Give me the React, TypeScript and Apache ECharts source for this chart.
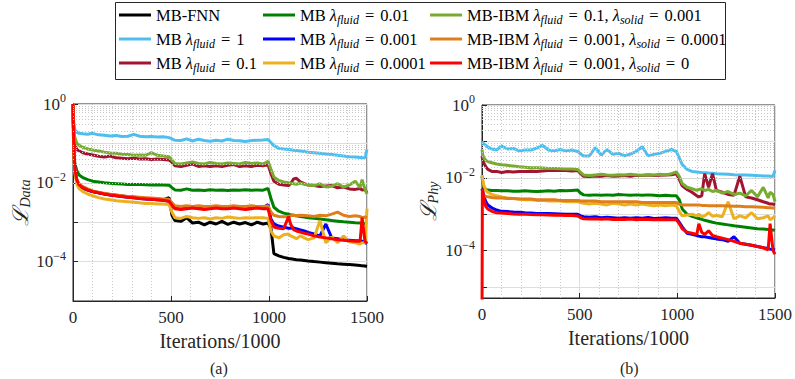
import React, { useEffect, useRef } from "react";
import * as echarts from "echarts";

const FONT = "Liberation Serif";
const INK = "#262626";

// iterations / 1000 (shared sampling grid)
const ITER = [
  0, 2, 5, 10, 20, 30, 50, 75, 100,
  130, 160, 190, 220, 250, 280, 310, 340, 370, 400, 430, 460, 490,
  505, 520, 550, 580, 610, 640, 670, 700, 730, 760, 790, 820, 850, 880, 910, 940, 970, 995,
  1010, 1025, 1050, 1075, 1100,
  1110, 1125, 1140, 1160, 1180, 1200,
  1230, 1260, 1290, 1320, 1350, 1380, 1410, 1440,
  1465, 1475, 1490, 1500,
];

const NAMES = [
  "MB-FNN",
  "MB λfluid = 1",
  "MB λfluid = 0.1",
  "MB λfluid = 0.01",
  "MB λfluid = 0.001",
  "MB λfluid = 0.0001",
  "MB-IBM λfluid = 0.1, λsolid = 0.001",
  "MB-IBM λfluid = 0.001, λsolid = 0.0001",
  "MB-IBM λfluid = 0.001, λsolid = 0",
];
const COLORS = ["#000000", "#4DBEEE", "#A2142F", "#008000", "#0000FF", "#EDB120", "#77AC30", "#DE7F1B", "#FF0000"];

// (a) data loss
const A_FNN = [
  1, 0.3, 0.05, 0.02, 0.011, 0.0088, 0.0073, 0.0065, 0.006,
  0.0056, 0.0053, 0.005, 0.0048, 0.0046, 0.0044, 0.0043, 0.0042, 0.004, 0.0039, 0.0038, 0.0037, 0.0042,
  0.0015, 0.0011, 0.00105, 0.0013, 0.00095, 0.001, 0.00085, 0.001, 0.0009, 0.00105, 0.00088, 0.001, 0.0009, 0.00098, 0.00085, 0.001, 0.0009, 0.00095,
  0.0007, 0.00016, 0.00014, 0.000128, 0.00012,
  0.000118, 0.000115, 0.000112, 0.00011, 0.000107, 0.000104,
  0.0001, 0.000097, 0.000094, 0.000091, 0.000088, 0.000086, 0.000084, 0.000082,
  0.00008, 0.000078, 0.000077, 0.000075,
];
const A_L1 = [
  1, 0.45, 0.3, 0.22, 0.19, 0.18, 0.175, 0.17, 0.18,
  0.165, 0.16, 0.155, 0.158, 0.15, 0.152, 0.17, 0.152, 0.148, 0.15, 0.145, 0.148, 0.14,
  0.13, 0.12, 0.118, 0.13, 0.115, 0.128, 0.118, 0.113, 0.12, 0.115, 0.128, 0.118, 0.116, 0.112, 0.118, 0.12, 0.122, 0.125,
  0.105, 0.088, 0.075, 0.072, 0.07,
  0.069, 0.067, 0.066, 0.064, 0.062, 0.06,
  0.058, 0.056, 0.054, 0.052, 0.05, 0.048, 0.046, 0.045,
  0.044, 0.043, 0.044, 0.07,
];
const A_L01 = [
  1, 0.35, 0.15, 0.09, 0.07, 0.065, 0.058, 0.054, 0.051,
  0.047, 0.045, 0.048, 0.043, 0.042, 0.041, 0.042, 0.04, 0.041, 0.039, 0.04, 0.039, 0.038,
  0.033, 0.027, 0.026, 0.028, 0.03, 0.026, 0.027, 0.026, 0.027, 0.026, 0.028, 0.029, 0.026, 0.027, 0.026, 0.028, 0.027, 0.029,
  0.017, 0.011, 0.0092, 0.0088, 0.0085,
  0.0095, 0.0125, 0.013, 0.0105, 0.0095, 0.0088,
  0.0085, 0.008, 0.0083, 0.0085, 0.0075, 0.0078, 0.007, 0.0068,
  0.0072, 0.0065, 0.0068, 0.0055,
];
const A_L001 = [
  1, 0.2, 0.05, 0.03, 0.02, 0.016, 0.0135, 0.012, 0.011,
  0.0105, 0.01, 0.0097, 0.0095, 0.0093, 0.0091, 0.009, 0.009, 0.0089, 0.0088, 0.0089, 0.0088, 0.0087,
  0.0075, 0.0066, 0.0065, 0.007, 0.0065, 0.0066, 0.0064, 0.0067, 0.0065, 0.0066, 0.0064, 0.0066, 0.0065, 0.0067, 0.0065, 0.0066, 0.0065, 0.0072,
  0.004, 0.0024, 0.0019, 0.0017, 0.0016,
  0.00155, 0.0015, 0.00145, 0.0014, 0.00135, 0.0013,
  0.00125, 0.0012, 0.00115, 0.0011, 0.00106, 0.00102, 0.001, 0.00097,
  0.00095, 0.00094, 0.00093, 0.0009,
];
const A_L0001 = [
  1, 0.3, 0.055, 0.021, 0.0112, 0.0089, 0.0074, 0.0066, 0.006,
  0.0056, 0.0052, 0.0049, 0.0047, 0.0045, 0.0043, 0.0042, 0.004, 0.0039, 0.0038, 0.0037, 0.0036, 0.0034,
  0.0027, 0.0023, 0.0022, 0.0023, 0.0024, 0.0023, 0.0022, 0.0023, 0.0024, 0.0023, 0.0023, 0.0024, 0.0023, 0.0022, 0.0023, 0.0024, 0.0023, 0.0028,
  0.0012, 0.0009, 0.0008, 0.00075, 0.0007,
  0.0007, 0.00072, 0.00068, 0.00064, 0.0006, 0.00055,
  0.0005, 0.00045, 0.0009, 0.0004, 0.00038, 0.00036, 0.00035, 0.00034,
  0.00034, 0.00033, 0.00031, 0.00028,
];
const A_L00001 = [
  1, 0.2, 0.04, 0.017, 0.009, 0.0072, 0.006, 0.0052, 0.0047,
  0.0042, 0.0039, 0.0037, 0.0035, 0.0034, 0.0033, 0.0032, 0.0031, 0.003, 0.003, 0.0029, 0.0029, 0.0028,
  0.0018, 0.0013, 0.00125, 0.0014, 0.0013, 0.00125, 0.0013, 0.0012, 0.0013, 0.00125, 0.00135, 0.0013, 0.00125, 0.0013, 0.00128, 0.0013, 0.0013, 0.00125,
  0.0006, 0.00045, 0.0004, 0.00048, 0.0005,
  0.00045, 0.00042, 0.00038, 0.00045, 0.0004, 0.00036,
  0.0004, 0.0011, 0.0003, 0.00042, 0.0003, 0.00045, 0.00032, 0.0003,
  0.00028, 0.0003, 0.0003, 0.0022,
];
const A_IBM1 = [
  1, 0.4, 0.2, 0.14, 0.1, 0.09, 0.08, 0.072, 0.068,
  0.064, 0.06, 0.057, 0.056, 0.053, 0.052, 0.05, 0.051, 0.05, 0.058, 0.05, 0.048, 0.046,
  0.038, 0.031, 0.03, 0.032, 0.034, 0.031, 0.03, 0.033, 0.031, 0.03, 0.032, 0.031, 0.03, 0.033, 0.031, 0.032, 0.03, 0.035,
  0.022, 0.014, 0.0115, 0.0105, 0.01,
  0.0098, 0.0095, 0.0092, 0.0098, 0.0092, 0.0088,
  0.0085, 0.0095, 0.0078, 0.0082, 0.0095, 0.0078, 0.0088, 0.011,
  0.0075, 0.012, 0.0068, 0.0052,
];
const A_IBM2 = [
  1, 0.15, 0.04, 0.02, 0.012, 0.0095, 0.008, 0.007, 0.0062,
  0.0058, 0.0054, 0.0051, 0.0049, 0.0047, 0.0045, 0.0044, 0.0043, 0.0042, 0.0041, 0.004, 0.0039, 0.0038,
  0.0031, 0.0026, 0.0025, 0.0026, 0.0025, 0.0026, 0.0025, 0.0025, 0.0026, 0.0025, 0.0025, 0.0026, 0.0025, 0.0025, 0.0026, 0.0025, 0.0025, 0.0026,
  0.0018, 0.0015, 0.0014, 0.00138, 0.0014,
  0.00145, 0.0015, 0.00145, 0.0015, 0.00148, 0.00145,
  0.0014, 0.0015, 0.00145, 0.0016, 0.0018, 0.0015, 0.0014, 0.00145,
  0.0014, 0.0013, 0.00135, 0.0013,
];
const A_IBM3 = [
  1, 0.3, 0.06, 0.022, 0.0115, 0.009, 0.0075, 0.0066, 0.006,
  0.0056, 0.0052, 0.0049, 0.0047, 0.0045, 0.0043, 0.0042, 0.004, 0.0039, 0.0038, 0.0037, 0.0036, 0.0034,
  0.0027, 0.0022, 0.0021, 0.0022, 0.0023, 0.0022, 0.0021, 0.0022, 0.0023, 0.0022, 0.0022, 0.0023, 0.0022, 0.0021, 0.0022, 0.0023, 0.0022, 0.0022,
  0.0011, 0.00075, 0.0007, 0.00068, 0.0014,
  0.0009, 0.00065, 0.0006, 0.00056, 0.00052, 0.0005,
  0.00045, 0.00042, 0.0004, 0.00038, 0.00036, 0.00035, 0.00034, 0.00033,
  0.00033, 0.0013, 0.00032, 0.0003,
];

// (b) physics loss
const B_L1 = [
  0.1, 0.095, 0.09, 0.085, 0.078, 0.07, 0.062, 0.058, 0.075,
  0.062, 0.064, 0.055, 0.058, 0.058, 0.065, 0.078, 0.058, 0.055, 0.06, 0.055, 0.058, 0.053,
  0.045, 0.04, 0.04, 0.068, 0.042, 0.06, 0.044, 0.047, 0.04, 0.045, 0.053, 0.072, 0.04, 0.044, 0.047, 0.053, 0.06, 0.053,
  0.035, 0.023, 0.017, 0.015, 0.0145,
  0.0143, 0.014, 0.0138, 0.0135, 0.0133, 0.013,
  0.0128, 0.0125, 0.0122, 0.012, 0.012, 0.0118, 0.0115, 0.0113,
  0.0112, 0.0111, 0.011, 0.016,
];
const B_L01 = [
  0.04, 0.035, 0.03, 0.025, 0.02, 0.017, 0.015, 0.015, 0.014,
  0.015, 0.0145, 0.0148, 0.015, 0.0152, 0.015, 0.0155, 0.0158, 0.016, 0.0158, 0.016, 0.0155, 0.0158,
  0.013, 0.011, 0.0108, 0.0112, 0.011, 0.0115, 0.011, 0.0112, 0.0115, 0.011, 0.0118, 0.0115, 0.012, 0.0115, 0.0118, 0.012, 0.0122, 0.013,
  0.009, 0.006, 0.0048, 0.004, 0.0032,
  0.003, 0.0032, 0.013, 0.0055, 0.013, 0.0045,
  0.004, 0.0035, 0.0033, 0.011, 0.003, 0.0028, 0.0025, 0.0022,
  0.002, 0.0019, 0.0019, 0.0018,
];
const B_L001 = [
  0.011, 0.009, 0.007, 0.0055, 0.0048, 0.0046, 0.0045, 0.0045, 0.0044,
  0.0044, 0.0043, 0.0043, 0.0044, 0.0043, 0.0042, 0.0043, 0.0044, 0.0043, 0.0045, 0.0044, 0.0045, 0.0046,
  0.0038, 0.0034, 0.0033, 0.0034, 0.0033, 0.0034, 0.0033, 0.0035, 0.0034, 0.0033, 0.0034, 0.0033, 0.0034, 0.0033, 0.0032, 0.0033, 0.0032, 0.0032,
  0.0025, 0.0014, 0.001, 0.00088, 0.0008,
  0.00076, 0.00072, 0.00068, 0.00064, 0.0006, 0.00057,
  0.00054, 0.00051, 0.00048, 0.00046, 0.00044, 0.00042, 0.0004, 0.00039,
  0.00038, 0.00037, 0.00037, 0.00036,
];
const B_L0001 = [
  0.005, 0.0045, 0.004, 0.003, 0.0022, 0.0018, 0.0015, 0.0013, 0.0012,
  0.00118, 0.00115, 0.00113, 0.0011, 0.00108, 0.00105, 0.00105, 0.00104, 0.00103, 0.00102, 0.001, 0.001, 0.001,
  0.0009, 0.00085, 0.00082, 0.00085, 0.0008, 0.00082, 0.0008, 0.00078, 0.0008, 0.00077, 0.0008, 0.00078, 0.00082, 0.00076, 0.00078, 0.0008, 0.00077, 0.00078,
  0.0006, 0.00045, 0.0003, 0.00028, 0.00026,
  0.00025, 0.00024, 0.00024, 0.00023, 0.00022, 0.00021,
  0.0002, 0.00018, 0.00024, 0.00016, 0.00015, 0.00014, 0.00013, 0.00012,
  0.000115, 0.00011, 0.000108, 0.000105,
];
const B_L00001 = [
  0.012, 0.01, 0.008, 0.006, 0.0045, 0.004, 0.0035, 0.0032, 0.003,
  0.0028, 0.0027, 0.0026, 0.0025, 0.0025, 0.0024, 0.0024, 0.0023, 0.0023, 0.0023, 0.0022, 0.0022, 0.0022,
  0.0021, 0.002, 0.0019, 0.002, 0.0019, 0.0018, 0.002, 0.0019, 0.0018, 0.0019, 0.0018, 0.0019, 0.0018, 0.0017, 0.0018, 0.0017, 0.0018, 0.0017,
  0.0012, 0.0009, 0.00095, 0.001, 0.0009,
  0.001, 0.00085, 0.0009, 0.0011, 0.00088, 0.00092,
  0.00085, 0.0022, 0.00075, 0.0009, 0.0008, 0.0011, 0.00075, 0.0008,
  0.0009, 0.0007, 0.0008, 0.0009,
];
const B_IBM1 = [
  0.06, 0.05, 0.04, 0.035, 0.03, 0.028, 0.026, 0.024, 0.023,
  0.022, 0.021, 0.02, 0.0195, 0.019, 0.019, 0.0185, 0.018, 0.018, 0.0178, 0.0175, 0.0175, 0.017,
  0.014, 0.012, 0.0115, 0.012, 0.0125, 0.012, 0.0118, 0.0122, 0.012, 0.0125, 0.012, 0.0118, 0.0122, 0.012, 0.0125, 0.012, 0.013, 0.0145,
  0.011, 0.007, 0.0055, 0.005, 0.0045,
  0.0048, 0.005, 0.0045, 0.0048, 0.0042, 0.0045,
  0.0038, 0.0042, 0.0035, 0.0038, 0.0032, 0.0045, 0.003, 0.0055,
  0.0028, 0.004, 0.0035, 0.0022,
];
const B_IBM2 = [
  0.004, 0.0038, 0.0035, 0.0033, 0.0031, 0.003, 0.0029, 0.0028, 0.0028,
  0.0027, 0.0027, 0.0026, 0.0026, 0.0026, 0.0025, 0.0025, 0.0025, 0.0025, 0.0024, 0.0024, 0.0024, 0.0024,
  0.0023, 0.0023, 0.0023, 0.0023, 0.0022, 0.0022, 0.0022, 0.0022, 0.0022, 0.0022, 0.0022, 0.0021, 0.0021, 0.0021, 0.0021, 0.0021, 0.0021, 0.0021,
  0.0019, 0.0018, 0.0018, 0.0018, 0.0018,
  0.0018, 0.00175, 0.00175, 0.0017, 0.0017, 0.0017,
  0.0017, 0.00168, 0.00165, 0.00165, 0.0016, 0.0016, 0.00158, 0.00155,
  0.0015, 0.0015, 0.00148, 0.00145,
];
const B_IBM3 = [
  0.000001, 0.005, 0.004, 0.0025, 0.0016, 0.0014, 0.0012, 0.0011, 0.00108,
  0.00105, 0.00102, 0.001, 0.001, 0.00098, 0.00097, 0.00096, 0.00095, 0.00094, 0.00093, 0.00092, 0.00092, 0.0009,
  0.0008, 0.00075, 0.00074, 0.00075, 0.00073, 0.00075, 0.00072, 0.00073, 0.00072, 0.00074, 0.00071, 0.00073, 0.00072, 0.0007, 0.00072, 0.00071, 0.0007, 0.0007,
  0.00055, 0.0004, 0.00032, 0.0003, 0.00028,
  0.00055, 0.00032, 0.00028, 0.00035, 0.00026, 0.00024,
  0.00022, 0.0002, 0.00018, 0.00016, 0.00015, 0.00014, 0.00013, 0.00012,
  0.000105, 0.00055, 0.0001, 0.00008,
];

const SERIES_A = [A_FNN, A_L1, A_L01, A_L001, A_L0001, A_L00001, A_IBM1, A_IBM2, A_IBM3];
const SERIES_B = [null, B_L1, B_L01, B_L001, B_L0001, B_L00001, B_IBM1, B_IBM2, B_IBM3];

const X_TICKS = { min: 0, max: 1500, interval: 500 };
const Y_RANGE_A = { min: 1e-5, max: 1 };
const Y_RANGE_B = { min: 5e-6, max: 1 };

function minorLogValues(min: number, max: number) {
  const out: number[] = [];
  for (let e = -7; e <= 0; e++) {
    for (let m = 2; m <= 9; m++) {
      const v = m * Math.pow(10, e);
      if (v > min * 1.0001 && v < max) out.push(v);
    }
  }
  return out;
}

function legendFormatter(name: string) {
  return name.replace(/λ(fluid|solid)/g, "{l|λ}{s|$1}").replace(/ = /g, "{eq|=}");
}

function yLabel(v: number) {
  const lg = Math.log10(v);
  const e = Math.round(lg);
  if (Math.abs(lg - e) > 1e-6 || e % 2 !== 0) return "";
  return "10{sup|" + (e < 0 ? "−" + -e : String(e)) + "}";
}

function makeXAxis(gi: number) {
  return {
    type: "value",
    gridIndex: gi,
    ...X_TICKS,
    axisLine: { show: true, onZero: false, lineStyle: { color: INK, width: 1 } },
    axisTick: { show: true, inside: true, length: 5, lineStyle: { color: INK } },
    minorTick: { show: false, splitNumber: 5 },
    minorSplitLine: { show: true, lineStyle: { color: "#c8c8c8", type: [1, 2], width: 1 } },
    splitLine: { show: true, lineStyle: { color: "#dedede", width: 1 } },
    axisLabel: { fontFamily: FONT, fontSize: 17, color: INK, margin: 8, formatter: (v: number) => String(v) },
    name: "Iterations/1000",
    nameLocation: "middle",
    nameGap: 30,
    nameTextStyle: { fontFamily: FONT, fontSize: 20, color: INK },
  };
}

function makeYAxis(gi: number, range: { min: number; max: number }, sub: string, gap: number) {
  return {
    type: "log",
    logBase: 10,
    gridIndex: gi,
    ...range,
    axisLine: { show: true, lineStyle: { color: INK, width: 1 } },
    axisTick: { show: true, inside: true, length: 5, lineStyle: { color: INK } },
    splitLine: { show: true, lineStyle: { color: "#dedede", width: 1 } },
    axisLabel: {
      formatter: yLabel,
      fontFamily: FONT,
      fontSize: 17,
      color: INK,
      margin: 7,
      lineHeight: 22,
      rich: { sup: { fontFamily: FONT, fontSize: 12, color: INK, padding: [0, 0, 12, 0] } },
    },
    name: "{L|ℒ}{s|" + sub + "}",
    nameLocation: "middle",
    nameRotate: 90,
    nameGap: gap,
    nameTextStyle: {
      fontFamily: FONT,
      color: INK,
      fontSize: 20,
      rich: {
        L: { fontFamily: "DejaVu Serif", fontSize: 22, fontStyle: "italic", color: INK },
        s: { fontFamily: FONT, fontSize: 14, fontStyle: "italic", color: INK, padding: [10, 0, 0, 0] },
      },
    },
  };
}

function minorGridSeries(gi: number, range: { min: number; max: number }) {
  return {
    type: "line",
    name: "minor-" + gi,
    xAxisIndex: gi,
    yAxisIndex: gi,
    data: [],
    silent: true,
    z: 1,
    markLine: {
      silent: true,
      symbol: ["none", "none"],
      label: { show: false },
      animation: false,
      lineStyle: { color: "#c8c8c8", type: [1, 2], width: 1 },
      data: minorLogValues(range.min, range.max).map((v) => ({ yAxis: v })),
    },
  };
}

function dataSeries(gi: number, idx: number, ys: number[]) {
  return {
    type: "line",
    name: NAMES[idx],
    xAxisIndex: gi,
    yAxisIndex: gi,
    data: ITER.map((x, i) => [x, ys[i]]).filter((p) => p[1] !== undefined),
    showSymbol: false,
    symbol: "none",
    color: COLORS[idx],
    itemStyle: { color: COLORS[idx] },
    lineStyle: { width: 3, color: COLORS[idx] },
    z: 3,
    clip: true,
  };
}

const legendCommon = {
  orient: "vertical",
  icon: "rect",
  itemWidth: 32,
  itemHeight: 3,
  itemGap: 2,
  itemTextGap: 4,
  padding: 0,
  selectedMode: false,
  formatter: legendFormatter,
  textStyle: {
    fontFamily: FONT,
    fontSize: 16.5,
    color: "#000",
    lineHeight: 22,
    rich: {
      l: { fontFamily: FONT, fontSize: 16.5, fontStyle: "italic", color: "#000" },
      s: { fontFamily: FONT, fontSize: 12, fontStyle: "italic", color: "#000", padding: [9, 0, 0, 0] },
      eq: { fontFamily: FONT, fontSize: 16.5, color: "#000", padding: [0, 6, 0, 6] },
    },
  },
};

export default function App() {
  const ref = useRef<HTMLDivElement>(null);
  useEffect(() => {
    document.body.style.margin = "0";
    if (!ref.current) return;
    const chart = echarts.init(ref.current, undefined, { renderer: "svg" });
    const series: any[] = [minorGridSeries(0, Y_RANGE_A), minorGridSeries(1, Y_RANGE_B)];
    SERIES_A.forEach((ys, i) => series.push(dataSeries(0, i, ys)));
    SERIES_B.forEach((ys, i) => {
      if (ys) series.push(dataSeries(1, i, ys));
    });
    chart.setOption({
      animation: false,
      backgroundColor: "#ffffff",
      textStyle: { fontFamily: FONT },
      grid: [
        { left: 73, top: 104, width: 294, height: 197, show: true, borderColor: INK, borderWidth: 1, backgroundColor: "transparent" },
        { left: 482, top: 105, width: 295, height: 193, show: true, borderColor: INK, borderWidth: 1, backgroundColor: "transparent" },
      ],
      xAxis: [makeXAxis(0), makeXAxis(1)],
      yAxis: [makeYAxis(0, Y_RANGE_A, "Data", 40), makeYAxis(1, Y_RANGE_B, "Phy", 42)],
      legend: [
        { ...legendCommon, left: 119, top: 4, data: NAMES.slice(0, 3) },
        { ...legendCommon, left: 263, top: 4, data: NAMES.slice(3, 6) },
        { ...legendCommon, left: 430, top: 4, data: NAMES.slice(6, 9) },
      ],
      graphic: [
        {
          type: "rect",
          left: 115,
          top: 2,
          shape: { width: 610, height: 77 },
          style: { fill: "transparent", stroke: INK, lineWidth: 1 },
          silent: true,
          z: 0,
        },
        {
          type: "text",
          left: 210,
          top: 360,
          style: { text: "(a)", fontFamily: FONT, fontSize: 16, fill: INK },
        },
        {
          type: "text",
          left: 620,
          top: 360,
          style: { text: "(b)", fontFamily: FONT, fontSize: 16, fill: INK },
        },
      ],
      series,
    });
    return () => chart.dispose();
  }, []);
  return <div ref={ref} style={{ width: 795, height: 379 }} />;
}
